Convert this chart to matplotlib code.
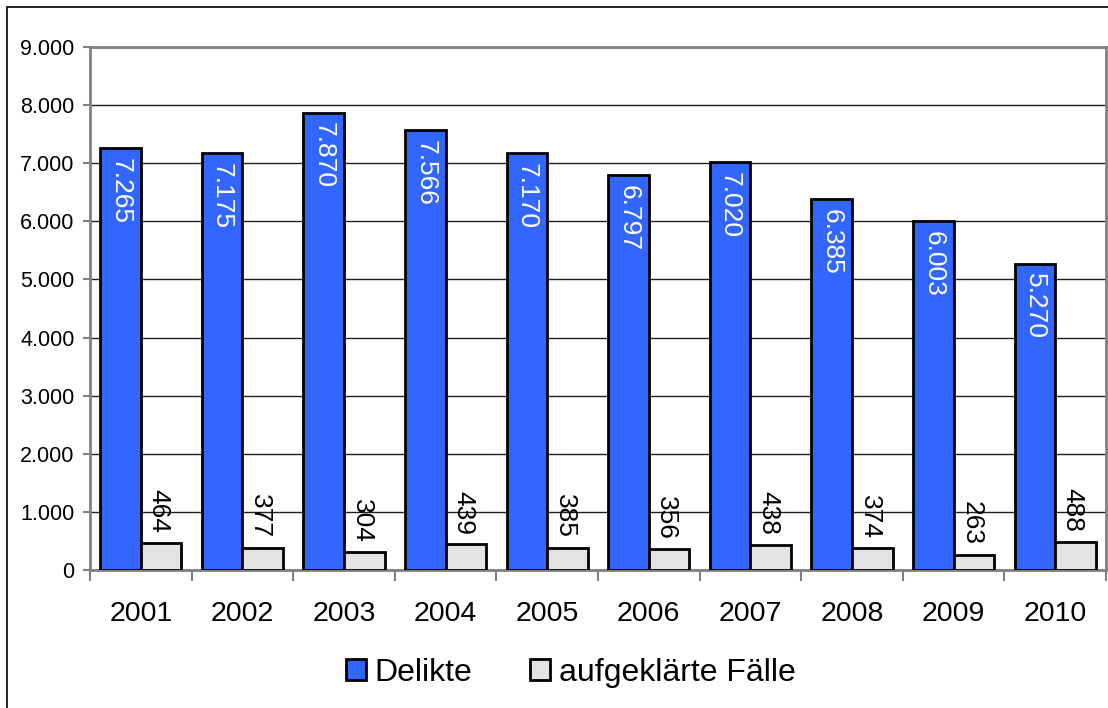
import matplotlib
matplotlib.use("Agg")
import matplotlib.pyplot as plt
from matplotlib.patches import Rectangle
from matplotlib.ticker import FuncFormatter, FixedLocator
import numpy as np

plt.rcParams["font.family"] = ["Liberation Sans", "DejaVu Sans"]

years = ["2001", "2002", "2003", "2004", "2005", "2006", "2007", "2008", "2009", "2010"]
delikte = [7265, 7175, 7870, 7566, 7170, 6797, 7020, 6385, 6003, 5270]
aufgeklaert = [464, 377, 304, 439, 385, 356, 438, 374, 263, 488]

BLUE, GREY, AXIS = "#3366FF", "#E3E3E3", "#808080"


def de_fmt(v, _pos=None):
    return f"{int(round(v)):,}".replace(",", ".")


fig = plt.figure(figsize=(11.08, 7.08), dpi=100)
# outer chart frame (right and bottom edges run off the image)
fig.patches.append(Rectangle((7 / 1108, -0.1), 1.2, 1.1 - 7 / 708,
                             transform=fig.transFigure, fill=False,
                             edgecolor="black", lw=1.2))
ax = fig.add_axes([90 / 1108, 138 / 708, 1016 / 1108, 523 / 708])

x = np.arange(len(years))
w = 0.4
b1 = ax.bar(x - w / 2, delikte, w, color=BLUE, edgecolor="black", lw=2, label="Delikte", zorder=3)
b2 = ax.bar(x + w / 2, aufgeklaert, w, color=GREY, edgecolor="black", lw=2,
            label="aufgeklärte Fälle", zorder=3)

for rect, v in zip(b1, delikte):
    ax.annotate(de_fmt(v), (rect.get_x() + rect.get_width() / 2, v), xytext=(0, -7),
                textcoords="offset points", rotation=270, ha="center", va="top",
                color="white", fontsize=19, zorder=4)
for rect, v in zip(b2, aufgeklaert):
    ax.annotate(de_fmt(v), (rect.get_x() + rect.get_width() / 2, v), xytext=(-2, 7),
                textcoords="offset points", rotation=270, ha="center", va="bottom",
                color="black", fontsize=19, zorder=4)

ax.set_xlim(-0.5, len(years) - 0.5)
ax.set_ylim(0, 9000)
ax.yaxis.set_major_locator(FixedLocator(np.arange(0, 9001, 1000)))
ax.yaxis.set_major_formatter(FuncFormatter(de_fmt))
ax.grid(True, axis="y", color="#202020", lw=1, zorder=1)
ax.set_xticks(x)
ax.set_xticklabels(years, fontsize=20.5)
ax.set_xticks(np.arange(-0.5, len(years)), minor=True)
ax.tick_params(axis="x", which="major", length=0, pad=22)
ax.tick_params(axis="x", which="minor", length=8, width=1.5, color=AXIS, direction="out")
ax.tick_params(axis="y", length=5, width=1.5, color=AXIS, labelsize=15.5, pad=6)
for s in ax.spines.values():
    s.set_color(AXIS)
    s.set_linewidth(2)

fig.legend(loc="center", bbox_to_anchor=(0.515, 1 - 673 / 708), ncol=2, frameon=False,
           fontsize=23, handlelength=0.62, handleheight=0.62, handletextpad=0.28,
           columnspacing=1.8, borderpad=0)

fig.savefig("out.png", dpi=100, facecolor="white")
